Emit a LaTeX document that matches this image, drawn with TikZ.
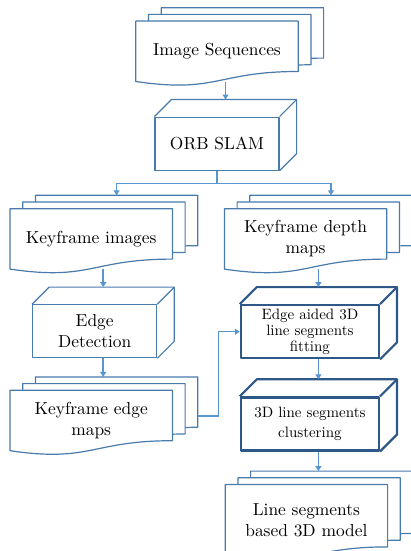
\documentclass[tikz,border=0pt]{standalone}
\usepackage{fontspec}
\newfontfamily\figfont{lmroman10-regular.otf}
\usetikzlibrary{arrows.meta, positioning, backgrounds}
\definecolor{lineblue}{RGB}{72,122,172}
\definecolor{arrowblue}{RGB}{88,150,208}
\definecolor{deepblue}{RGB}{46,88,136}

\begin{document}
\begin{tikzpicture}[x=1pt, y=-1pt,
        every node/.style={align=center, inner sep=0pt,
                           font=\figfont\fontsize{17.4}{21}\selectfont},
        face/.style={draw=lineblue, fill=white, line width=1.2pt, line join=round},
        thickface/.style={face, draw=deepblue, line width=2.2pt},
        docstack/.style={minimum width=162pt, minimum height=60pt},
        cube/.style={face, minimum width=124pt, minimum height=53pt},
        bigcube/.style={thickface, minimum width=138pt, minimum height=53pt,
                        font=\figfont\fontsize{15}{16}\selectfont},
        arr/.style={draw=arrowblue, line width=1.5pt, -{Triangle[length=5pt, width=6pt]}}
    ]
    \useasboundingbox (0,0) rectangle (411,551);

    % left column and top
    \node[docstack] (seq) at (217,51.3) {Image Sequences};
    \node[cube, below=35pt of seq] (orb) {ORB SLAM};
    \node[docstack, below left=38pt and -18pt of orb] (kimg) {Keyframe images};
    \node[cube, below=35pt of kimg, xshift=3.5pt] (edge) {Edge\\Detection};
    \node[docstack, below=32pt of edge, xshift=-3.5pt] (kedge) {Keyframe edge\\maps};
    % right column
    \node[docstack, right=52pt of kimg] (kdep) {Keyframe depth\\maps};
    \node[bigcube, below=35pt of kdep, xshift=4.3pt] (fit) {Edge aided 3D\\line segments\\fitting};
    \node[bigcube, below=37pt of fit, font=\figfont\fontsize{15}{19.5}\selectfont] (clus)
          {3D line segments\\clustering};
    \node[docstack, below=33pt of clus, xshift=-3.5pt, minimum height=72pt] (model)
          {Line segments\\based 3D model};

    % stacked sheets behind the document nodes
    \begin{pgfonlayer}{background}
    \foreach \n in {seq,kimg,kdep,kedge,model}
      \foreach \k in {2,1,0}
        \draw[face] ([shift={(12.7*\k,-6.7*\k)}]\n.north west)
          -- ([shift={(12.7*\k,-6.7*\k)}]\n.north east)
          -- ([shift={(12.7*\k,-6.7*\k-10)}]\n.south east)
          .. controls ([shift={(12.7*\k,-6.7*\k-10)}]\n.south)
                 and ([shift={(12.7*\k,-6.7*\k+12)}]\n.south)
          .. ([shift={(12.7*\k,-6.7*\k)}]\n.south west) -- cycle;
    \end{pgfonlayer}
    \foreach \n in {kimg,kdep,kedge,model}
      \coordinate (\n-top) at ([shift={(25.4,-13.4)}]\n.north);

    % top and side faces of the boxes
    \foreach \n/\st in {orb/face, edge/face, fit/thickface, clus/thickface} {
      \draw[\st, fill=none] (\n.north west) -- ++(17,-17) -| ([shift={(17,-17)}]\n.south east)
        -- (\n.south east);
      \draw[\st] (\n.north east) -- ++(17,-17);
      \coordinate (\n-in) at ([shift={(8.5,-17)}]\n.north);
    }

    \draw[arr] (seq.south -| orb-in) -- (orb-in);
    \draw[arr] (orb.south) -- ++(0,13) -| (kimg-top);
    \draw[arr] (orb.south) -- ++(0,13) -| (kdep-top);
    \draw[arr] (kimg.south -| edge-in) -- (edge-in);
    \draw[arr] (kdep.south -| fit-in) -- (fit-in);
    \draw[arr] (edge.south -| edge-in) -- (edge-in |- kedge-top);
    \draw[arr] (fit.south -| fit-in) -- (fit-in |- clus-in);
    \draw[arr] (clus.south -| clus-in) -- (clus-in |- model-top);
    \draw[arr] ([shift={(25.4,-4.5)}]kedge.east) -- ++(20.6,0) |- (fit.west);
\end{tikzpicture}
\end{document}
